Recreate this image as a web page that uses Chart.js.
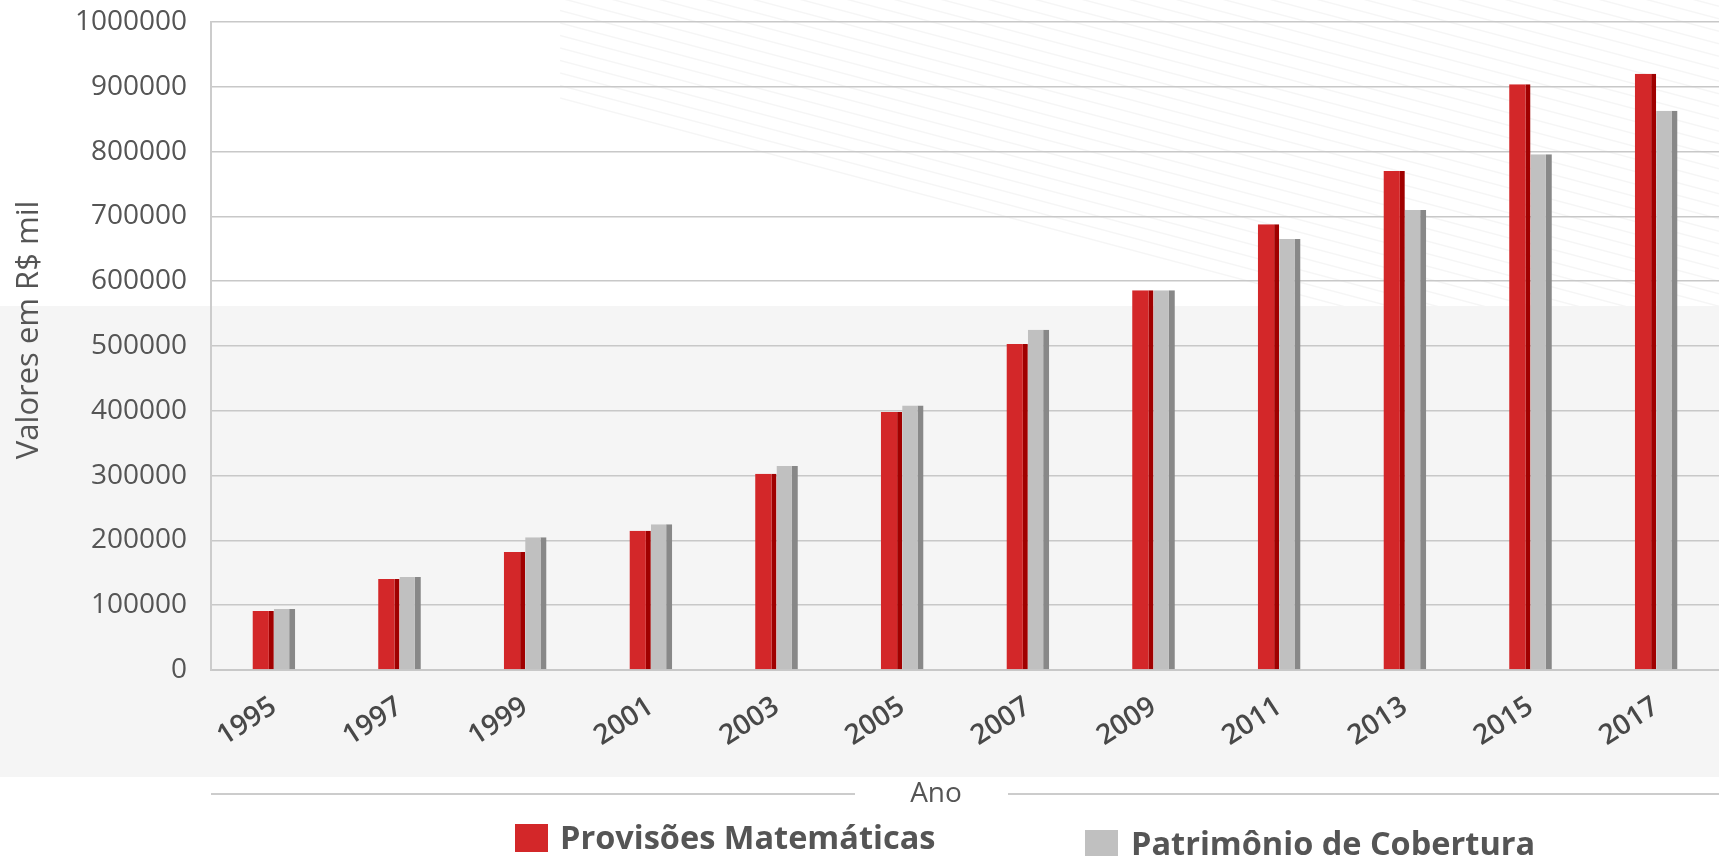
<!DOCTYPE html>
<html>
<head>
<meta charset="utf-8">
<script src="https://cdn.jsdelivr.net/npm/chart.js@4.4.1/dist/chart.umd.min.js"></script>
<style>
    body { margin: 0; background: #fff; overflow: hidden; }
    #wrap { position: relative; width: 1719px; height: 856px; font-family: 'Open Sans', sans-serif; color: #555; }
    #myChart { position: absolute; left: 0; top: 0; }
    .linha { position: absolute; height: 2px; background: #cccccc; top: 793px; }
    #tituloX { position: absolute; left: 936px; top: 791px; transform: translate(-50%, -50%); font-size: 28px; }
    .leg-box { position: absolute; width: 33px; height: 28px; }
    .leg-txt { position: absolute; font-size: 32.5px; font-weight: bold; line-height: 45px; white-space: nowrap; }
</style>
</head>
<body>
<div id="wrap">
    <canvas id="myChart" width="1719" height="856"></canvas>
    <div class="linha" style="left:211px; width:644px;"></div>
    <div class="linha" style="left:1008px; width:711px;"></div>
    <div id="tituloX">Ano</div>
    <div id="legenda"></div>
</div>
<script>
const anos = ['1995', '1997', '1999', '2001', '2003', '2005', '2007', '2009', '2011', '2013', '2015', '2017'];
const provisoes = [91000, 140500, 182000, 215000, 303000, 398000, 503000, 586000, 688000, 770000, 904000, 920000];
const patrimonio = [94000, 143500, 205000, 225000, 315000, 408000, 525000, 586000, 665000, 710000, 796000, 863000];
const ticksY = [0, 100000, 200000, 300000, 400000, 500000, 600000, 700000, 800000, 900000, 1000000];

const nomes = ['Provisões Matemáticas', 'Patrimônio de Cobertura'];
const cores = ['#d32729', '#c0c0c0'];
const coresLado = ['#a00000', '#888888'];

// fundo: faixa cinza e linhas diagonais claras
const fundo = {
    id: 'fundo',
    beforeDraw(chart) {
        const c = chart.ctx;
        c.save();
        c.fillStyle = '#ffffff';
        c.fillRect(0, 0, chart.width, chart.height);
        c.fillStyle = '#f5f5f5';
        c.fillRect(0, 306, chart.width, 471);
        c.beginPath();
        c.rect(560, 0, chart.width - 560, 306);
        c.clip();
        c.strokeStyle = 'rgba(0,0,0,0.04)';
        c.lineWidth = 1.5;
        const inc = 0.266;
        for (let k = 0; k < 40; k++) {
            const y0 = 98 - 12.5 * k;
            c.beginPath();
            c.moveTo(560, y0);
            c.lineTo(chart.width, y0 + inc * (chart.width - 560));
            c.stroke();
        }
        c.restore();
    }
};

const ctx = document.getElementById('myChart').getContext('2d');
const grafica = new Chart(ctx, {
    type: 'bar',
    data: {
        labels: anos,
        datasets: [{
            label: nomes[0],
            data: provisoes,
            backgroundColor: cores[0],
            borderColor: coresLado[0],
            borderWidth: { top: 0, right: 5, bottom: 0, left: 0 },
            borderSkipped: false,
            categoryPercentage: 0.34,
            barPercentage: 1
        }, {
            label: nomes[1],
            data: patrimonio,
            backgroundColor: cores[1],
            borderColor: coresLado[1],
            borderWidth: { top: 0, right: 6, bottom: 0, left: 0 },
            borderSkipped: false,
            categoryPercentage: 0.34,
            barPercentage: 1
        }]
    },
    options: {
        responsive: false,
        animation: false,
        layout: { padding: { top: 22, right: 0, bottom: 0, left: 0 } },
        plugins: {
            legend: { display: false },
            tooltip: { enabled: false }
        },
        scales: {
            x: {
                grid: { display: false, drawTicks: false },
                border: { display: true, color: '#c8c8c8', width: 2 },
                ticks: {
                    color: '#484848',
                    font: { family: 'Open Sans', size: 28, weight: '600' },
                    minRotation: 33,
                    maxRotation: 33,
                    padding: 20,
                    autoSkip: false
                },
                afterFit(scale) { scale.height = 186; }
            },
            y: {
                min: 0,
                max: 1000000,
                afterBuildTicks(scale) { scale.ticks = ticksY.map(v => ({ value: v })); },
                grid: { color: '#c8c8c8', lineWidth: 1.5, drawTicks: false },
                border: { display: true, color: '#cccccc', width: 2 },
                ticks: {
                    color: '#555',
                    font: { family: 'Open Sans', size: 28 },
                    padding: 24,
                    callback: v => String(v)
                },
                title: {
                    display: true,
                    text: '    Valores em R$ mil',
                    color: '#555',
                    font: { family: 'Open Sans', size: 31 },
                    padding: { top: 11, bottom: 0 }
                },
                afterFit(scale) {
                    scale.width = 211;
                    scale.paddingTop = 0;
                    scale.paddingBottom = 0;
                }
            }
        }
    },
    plugins: [fundo]
});

// legenda montada a partir dos datasets
const posLegenda = [
    { box: [515, 824], txt: [560, 814] },
    { box: [1085, 830], txt: [1131, 820] }
];
const legenda = document.getElementById('legenda');
grafica.data.datasets.forEach((ds, i) => {
    const p = posLegenda[i];
    legenda.innerHTML += `
        <div class="leg-box" style="left:${p.box[0]}px; top:${p.box[1]}px; background:${ds.backgroundColor};"></div>
        <div class="leg-txt" style="left:${p.txt[0]}px; top:${p.txt[1]}px;">${ds.label}</div>
    `;
});
</script>
</body>
</html>
